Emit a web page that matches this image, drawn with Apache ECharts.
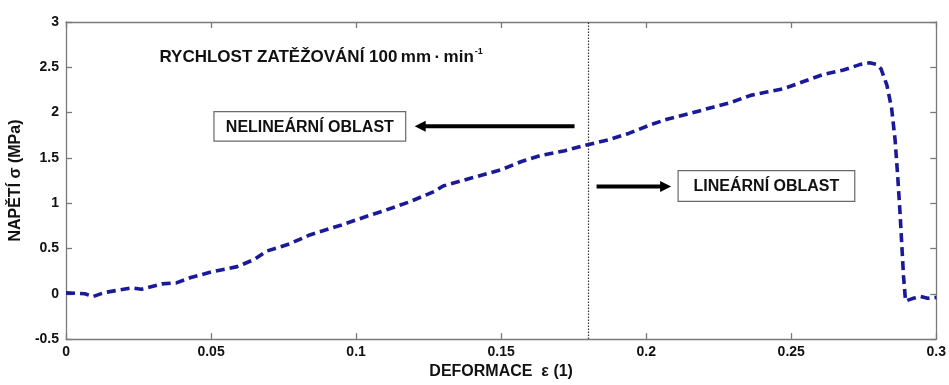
<!DOCTYPE html>
<html>
<head>
<meta charset="utf-8">
<script src="https://cdn.jsdelivr.net/npm/echarts@6/dist/echarts.min.js"></script>
<style>
  html, body { margin: 0; padding: 0; background: #fff; }
  #chart { width: 949px; height: 385px; }
</style>
</head>
<body>
<div id="chart"></div>
<script>
// Tensile test record: strain ε (1) vs stress σ (MPa)
const strain = [0, 0.0065, 0.0093, 0.0134, 0.018, 0.0226, 0.026, 0.033, 0.038, 0.043,
  0.05, 0.059, 0.065, 0.069, 0.077, 0.084, 0.095, 0.105, 0.109, 0.118,
  0.127, 0.130, 0.140, 0.150, 0.157, 0.164, 0.172, 0.179, 0.187, 0.194,
  0.201, 0.2075, 0.215, 0.223, 0.229, 0.236, 0.242, 0.247, 0.254, 0.261,
  0.268, 0.2736, 0.277, 0.2795, 0.281, 0.283, 0.2846, 0.2858, 0.2867, 0.2875,
  0.2887, 0.2894, 0.292, 0.2945, 0.297, 0.300];
const stress = [0.01, 0.0, -0.03, 0.015, 0.04, 0.065, 0.05, 0.11, 0.12, 0.18,
  0.24, 0.30, 0.38, 0.47, 0.55, 0.65, 0.76, 0.87, 0.91, 1.01,
  1.13, 1.19, 1.28, 1.37, 1.46, 1.53, 1.58, 1.64, 1.70, 1.77,
  1.86, 1.93, 1.99, 2.06, 2.11, 2.19, 2.23, 2.26, 2.34, 2.42,
  2.47, 2.53, 2.55, 2.53, 2.48, 2.30, 2.05, 1.70, 1.30, 0.90,
  0.20, -0.08, -0.05, -0.03, -0.05, -0.04];

// Boundary between the non-linear and linear regions
const boundaryStrain = 0.18;

const xRange = [0, 0.3, 0.05];
const yRange = [-0.5, 3, 0.5];

const titleText = 'RYCHLOST ZATĚŽOVÁNÍ 100\u2009mm\u2009·\u2009min';
const titleSup = '-1';
const leftRegion = 'NELINEÁRNÍ OBLAST';
const rightRegion = 'LINEÁRNÍ OBLAST';
const xName = 'DEFORMACE  ε (1)';
const yName = 'NAPĚTÍ σ (MPa)';

const FONT = 'Arial, "Liberation Sans", sans-serif';
const AXIS_GRAY = '#7a7a7a';
const LINE_BLUE = '#1a1a98';

const chart = echarts.init(document.getElementById('chart'));

const tickLabel = { color: '#111', fontFamily: FONT, fontWeight: 'bold', fontSize: 14 };

function baseAxis(range, extra) {
  return Object.assign({
    type: 'value',
    min: range[0], max: range[1], interval: range[2],
    axisLine: { show: true, onZero: false, lineStyle: { color: AXIS_GRAY, width: 1.3 } },
    axisTick: { show: true, inside: true, length: 6, lineStyle: { color: AXIS_GRAY, width: 1.3 } },
    splitLine: { show: false }
  }, extra);
}

chart.setOption({
  animation: false,
  backgroundColor: '#fff',
  grid: { left: 61, right: 12, top: 22, bottom: 41, containLabel: false },
  xAxis: [
    baseAxis(xRange, {
      position: 'bottom',
      axisLabel: Object.assign({ margin: 6 }, tickLabel),
      name: xName, nameLocation: 'middle', nameGap: 17,
      nameTextStyle: { color: '#111', fontFamily: FONT, fontWeight: 'bold', fontSize: 16 }
    }),
    baseAxis(xRange, { position: 'top', axisLabel: { show: false } })
  ],
  yAxis: [
    baseAxis(yRange, {
      position: 'left',
      axisLabel: Object.assign({ margin: 7 }, tickLabel),
      name: yName, nameLocation: 'middle', nameGap: 36,
      nameTextStyle: { color: '#111', fontFamily: FONT, fontWeight: 'bold', fontSize: 16 }
    }),
    baseAxis(yRange, { position: 'right', axisLabel: { show: false } })
  ],
  series: [{
    type: 'line',
    data: strain.map((s, i) => [s, stress[i]]),
    showSymbol: false,
    smooth: false,
    lineStyle: { color: LINE_BLUE, width: 3.6, type: [9, 5], cap: 'butt' },
    markLine: {
      silent: true,
      symbol: 'none',
      label: { show: false },
      lineStyle: { color: '#333', width: 1.2, type: [1.5, 1.5] },
      data: [{ xAxis: boundaryStrain }]
    },
    z: 3
  }]
});

// Annotations placed in data coordinates
function px(x, y) { return chart.convertToPixel({ gridIndex: 0 }, [x, y]); }

function regionBox(x0, y0, x1, y1, text) {
  const a = px(x0, y0), b = px(x1, y1);
  return [
    { type: 'rect', shape: { x: a[0], y: a[1], width: b[0] - a[0], height: b[1] - a[1] },
      style: { fill: '#fff', stroke: '#6a6a6a', lineWidth: 1.2 }, z: 10 },
    { type: 'text', x: (a[0] + b[0]) / 2, y: (a[1] + b[1]) / 2 + 1,
      style: { text: text, fill: '#111', font: 'bold 16px ' + FONT, align: 'center', verticalAlign: 'middle' }, z: 11 }
  ];
}

function arrow(xFrom, xTo, y) {
  const a = px(xFrom, y), b = px(xTo, y);
  const dir = Math.sign(b[0] - a[0]);
  const headLen = 11, headHalf = 5.5;
  const baseX = b[0] - dir * headLen;
  return [
    { type: 'line', shape: { x1: a[0], y1: a[1], x2: baseX + dir, y2: b[1] },
      style: { stroke: '#000', lineWidth: 4 }, z: 10 },
    { type: 'polygon', shape: { points: [[b[0], b[1]], [baseX, b[1] - headHalf], [baseX, b[1] + headHalf]] },
      style: { fill: '#000' }, z: 10 }
  ];
}

const titlePos = px(0.0322, 2.63);
const graphics = [
  { type: 'text', x: titlePos[0], y: titlePos[1],
    style: {
      text: '{a|' + titleText + '}{s|' + titleSup + '}',
      align: 'left', verticalAlign: 'middle',
      rich: {
        a: { font: 'bold 17px ' + FONT, fill: '#111', lineHeight: 20, verticalAlign: 'bottom' },
        s: { font: 'bold 9px ' + FONT, fill: '#111', lineHeight: 20, verticalAlign: 'top', padding: [1, 0, 0, 1] }
      }
    }, z: 11 }
]
  .concat(regionBox(0.051, 2.01, 0.1171, 1.685, leftRegion))
  .concat(regionBox(0.2110, 1.36, 0.2719, 1.02, rightRegion))
  .concat(arrow(0.1753, 0.1202, 1.85))
  .concat(arrow(0.1829, 0.2086, 1.185));

chart.setOption({ graphic: graphics });
</script>
</body>
</html>
